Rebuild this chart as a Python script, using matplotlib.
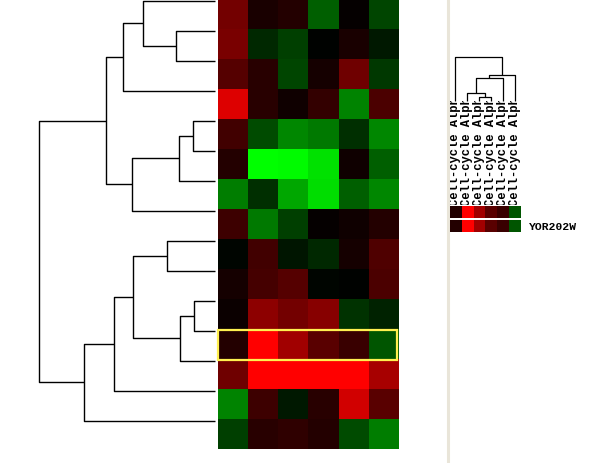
import numpy as np
import matplotlib
matplotlib.use('Agg')
import matplotlib.pyplot as plt
from matplotlib.colors import LinearSegmentedColormap
from matplotlib.patches import Rectangle

# expression values, rows in dendrogram order (+ red, - green)
heat = np.array([
    [0.45, 0.10, 0.14, -0.37, 0.02, -0.27],
    [0.47, -0.16, -0.25, -0.01, 0.10, -0.10],
    [0.33, 0.16, -0.27, 0.08, 0.43, -0.22],
    [0.86, 0.16, 0.06, 0.20, -0.51, 0.29],
    [0.25, -0.29, -0.53, -0.47, -0.18, -0.53],
    [0.14, -1.00, -0.98, -0.88, 0.06, -0.37],
    [-0.49, -0.18, -0.65, -0.86, -0.37, -0.53],
    [0.24, -0.47, -0.25, 0.02, 0.06, 0.14],
    [-0.02, 0.25, -0.08, -0.16, 0.08, 0.31],
    [0.08, 0.27, 0.33, -0.02, -0.01, 0.29],
    [0.04, 0.55, 0.45, 0.53, -0.20, -0.14],
    [0.14, 1.00, 0.63, 0.35, 0.22, -0.33],
    [0.43, 1.00, 1.00, 1.00, 1.00, 0.65],
    [-0.51, 0.24, -0.10, 0.16, 0.82, 0.35],
    [-0.25, 0.16, 0.18, 0.14, -0.29, -0.49],
])
selected_row = 11
selected_gene = 'YOR202W'
col_labels = ['Cell-cycle Alph'] * 6

# row tree: (child a, child b, distance); leaves 0..14, new nodes 15..
row_merges = [
    (1, 2, 0.220), (0, 15, 0.408), (16, 3, 0.525),
    (4, 5, 0.124), (18, 6, 0.207), (19, 7, 0.471), (17, 20, 0.619),
    (8, 9, 0.271), (10, 11, 0.118), (23, 12, 0.198), (22, 24, 0.465),
    (25, 13, 0.573), (26, 14, 0.744), (21, 27, 1.0),
]
# column tree: leaves 0..5, new nodes 6..
col_merges = [(2, 3, 0.095), (1, 6, 0.186), (7, 4, 0.51), (8, 5, 0.59), (0, 9, 1.0)]

W, H = 596, 464
cmap = LinearSegmentedColormap.from_list('gr', [(0, 1, 0), (0, 0, 0), (1, 0, 0)])


def px_axes(fig, x0, y0, x1, y1):
    return fig.add_axes([x0 / W, 1 - y1 / H, (x1 - x0) / W, (y1 - y0) / H])


def tree_lines(merges, n_leaves):
    pos = {i: float(i) for i in range(n_leaves)}
    hgt = {i: 0.0 for i in range(n_leaves)}
    segs = []
    for k, (a, b, h) in enumerate(merges):
        node = n_leaves + k
        segs.append(([hgt[a], h, h, hgt[b]], [pos[a], pos[a], pos[b], pos[b]]))
        pos[node] = (pos[a] + pos[b]) / 2
        hgt[node] = h
    return segs


fig = plt.figure(figsize=(W / 100, H / 100), dpi=100)
fig.patch.set_facecolor('white')

# heatmap
ax_heat = px_axes(fig, 218, 0.5, 398, 450.5)
ax_heat.imshow(heat, cmap=cmap, vmin=-1, vmax=1, aspect='auto', interpolation='nearest')
ax_heat.add_patch(Rectangle((-0.5, selected_row - 0.5), heat.shape[1] - 0.05, 1.0,
                            fill=False, edgecolor='#fff050', lw=1.6, clip_on=False))
ax_heat.axis('off')

# row dendrogram
ax_rd = px_axes(fig, 0, 0.5, 215, 450.5)
for xs, ys in tree_lines(row_merges, heat.shape[0]):
    ax_rd.plot(xs, ys, color='black', lw=1.0, clip_on=False, solid_capstyle='butt')
ax_rd.set_xlim(1.2237, 0)
ax_rd.set_ylim(14.96, -0.04)
ax_rd.axis('off')

# separator
ax_bg = fig.add_axes([0, 0, 1, 1], zorder=-1)
ax_bg.set_xlim(0, W)
ax_bg.set_ylim(H, 0)
ax_bg.axvline(447.5, color='#e9e5d9', lw=2.2)
ax_bg.axis('off')

# column dendrogram
ax_cd = px_axes(fig, 449.5, 57.7, 520.5, 101.7)
for xs, ys in tree_lines(col_merges, heat.shape[1]):
    ax_cd.plot(ys, xs, color='black', lw=0.9, clip_on=False, solid_capstyle='butt')
ax_cd.set_xlim(-0.5, heat.shape[1] - 0.5)
ax_cd.set_ylim(0, 1)
ax_cd.axis('off')

# column labels (clipped at the top like the original)
ax_lab = px_axes(fig, 449.5, 101.8, 520.5, 206)
ax_lab.set_xlim(-0.5, heat.shape[1] - 0.5)
ax_lab.set_ylim(0, 1)
for i, lab in enumerate(col_labels):
    t = ax_lab.text(i, 0, lab, rotation=90, ha='center', va='bottom', fontsize=8.7,
                    family='Liberation Mono', fontweight='bold')
    t.set_clip_on(True)
    t.set_clip_box(ax_lab.bbox)
ax_lab.axis('off')

# selected gene strips
for y0, y1 in [(207, 219), (221, 233)]:
    ax_s = px_axes(fig, 449.5, y0, 520.5, y1)
    ax_s.imshow(heat[selected_row:selected_row + 1], cmap=cmap, vmin=-1, vmax=1,
                aspect='auto', interpolation='nearest')
    ax_s.axis('off')

fig.text(529 / W, 1 - 227.5 / H, selected_gene, ha='left', va='center', fontsize=8.2,
         family='Liberation Mono', fontweight='bold')

fig.savefig('out.png', dpi=100)
